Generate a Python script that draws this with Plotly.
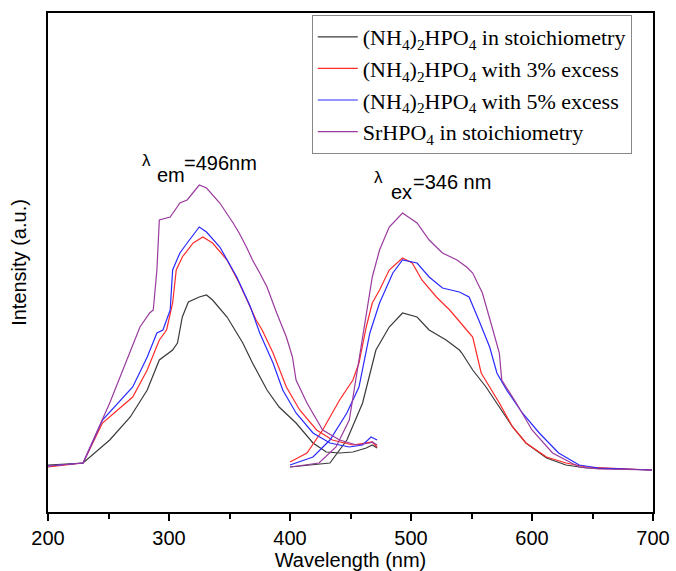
import plotly.graph_objects as go

# ---- Excitation spectra (monitored at 496 nm) ----
ex_black_wl = [200, 229, 251, 268, 282, 292, 303, 307, 311, 316, 325, 331, 336, 348, 358, 361, 369, 375, 381, 391, 405, 419, 430, 441, 452, 463, 468, 472]
ex_black_I = [47, 49, 72, 95, 122, 152, 162, 169, 195, 210, 215, 217, 212, 195, 175, 169, 149, 135, 122, 105, 89, 69, 60, 59, 60, 64, 67, 64]

ex_red_wl = [200, 229, 245, 270, 282, 292, 298, 303, 306, 311, 320, 328, 336, 348, 358, 367, 372, 377, 386, 397, 408, 422, 435, 452, 463, 468, 472]
ex_red_I = [45, 49, 89, 115, 142, 172, 182, 209, 242, 255, 269, 275, 269, 252, 229, 205, 192, 182, 159, 125, 102, 82, 72, 67, 69, 70, 65]

ex_blue_wl = [200, 229, 245, 270, 282, 290, 295, 301, 303, 309, 315, 325, 331, 342, 356, 367, 375, 386, 394, 405, 419, 433, 449, 460, 467, 472]
ex_blue_I = [46, 49, 92, 125, 155, 179, 182, 202, 242, 259, 269, 285, 280, 265, 235, 206, 179, 149, 122, 99, 79, 69, 65, 67, 75, 72]

ex_purple_wl = [200, 229, 251, 265, 276, 284, 287, 290, 292, 301, 309, 315, 325, 331, 342, 353, 358, 364, 369, 375, 381, 389, 397, 402, 405, 414, 427, 441, 455, 466, 468, 472]
ex_purple_I = [46, 49, 109, 152, 185, 199, 202, 242, 292, 295, 309, 312, 327, 324, 309, 289, 279, 265, 252, 239, 225, 199, 175, 155, 132, 109, 82, 72, 67, 69, 70, 67]

# ---- Emission spectra (excited at 346 nm) ----
em_black_wl = [400, 433, 447, 460, 471, 482, 493, 505, 515, 529, 540, 542, 551, 562, 573, 584, 595, 612, 628, 645, 699]
em_black_I = [45, 49, 72, 109, 162, 185, 199, 195, 182, 172, 162, 159, 142, 125, 105, 85, 69, 54, 47, 44, 42]

em_red_wl = [400, 414, 427, 441, 452, 457, 463, 468, 474, 482, 493, 501, 509, 521, 532, 540, 546, 551, 555, 558, 565, 573, 584, 595, 612, 628, 645, 661, 699]
em_red_I = [50, 59, 82, 112, 132, 149, 185, 209, 222, 242, 254, 249, 232, 215, 202, 190, 182, 175, 155, 139, 125, 109, 85, 69, 55, 49, 45, 44, 42]

em_blue_wl = [400, 419, 433, 447, 457, 466, 474, 485, 493, 505, 515, 526, 540, 548, 556, 565, 571, 579, 592, 606, 622, 639, 655, 699]
em_blue_I = [47, 55, 72, 99, 125, 179, 209, 239, 252, 249, 235, 224, 220, 215, 192, 165, 139, 122, 99, 79, 59, 47, 44, 42]

em_purple_wl = [400, 424, 438, 449, 457, 463, 468, 474, 482, 493, 505, 515, 526, 538, 546, 551, 559, 567, 573, 575, 587, 600, 617, 639, 655, 699]
em_purple_I = [45, 49, 65, 92, 152, 195, 235, 262, 285, 299, 289, 272, 259, 252, 245, 239, 219, 185, 159, 132, 109, 82, 59, 45, 43, 42]

series_names = [
    "(NH<sub>4</sub>)<sub>2</sub>HPO<sub>4</sub> in stoichiometry",
    "(NH<sub>4</sub>)<sub>2</sub>HPO<sub>4</sub> with 3% excess",
    "(NH<sub>4</sub>)<sub>2</sub>HPO<sub>4</sub> with 5% excess",
    "SrHPO<sub>4</sub> in stoichiometry",
]
series_colors = ["#3a3a3a", "#ff2a2a", "#2a2aff", "#9a3a9e"]

x_ticks = [200, 300, 400, 500, 600, 700]

SANS = "Liberation Sans, Arial, sans-serif"
SERIF = "Liberation Serif, Times New Roman, serif"

fig = go.Figure()
ex_sets = [(ex_black_wl, ex_black_I), (ex_red_wl, ex_red_I), (ex_blue_wl, ex_blue_I), (ex_purple_wl, ex_purple_I)]
em_sets = [(em_black_wl, em_black_I), (em_red_wl, em_red_I), (em_blue_wl, em_blue_I), (em_purple_wl, em_purple_I)]

for i, (name, color) in enumerate(zip(series_names, series_colors)):
    fig.add_trace(go.Scatter(x=ex_sets[i][0], y=ex_sets[i][1], mode="lines",
                             line=dict(color=color, width=1.2), name=name,
                             legendgroup=str(i), showlegend=True))
    fig.add_trace(go.Scatter(x=em_sets[i][0], y=em_sets[i][1], mode="lines",
                             line=dict(color=color, width=1.2), name=name,
                             legendgroup=str(i), showlegend=False))

# λem=496nm label (lambda, lowered "em", raised "=496nm")
fig.add_annotation(x=281, y=352, xref="x", yref="y", xanchor="center", yanchor="middle",
                   text="λ", showarrow=False, font=dict(family=SANS, size=17, color="black"))
fig.add_annotation(x=288.5, y=337, xref="x", yref="y", xanchor="left", yanchor="middle",
                   text="em", showarrow=False, font=dict(family=SANS, size=20, color="black"))
fig.add_annotation(x=311, y=349, xref="x", yref="y", xanchor="left", yanchor="middle",
                   text="=496nm", showarrow=False, font=dict(family=SANS, size=20, color="black"))

# λex=346 nm label
fig.add_annotation(x=473, y=335, xref="x", yref="y", xanchor="center", yanchor="middle",
                   text="λ", showarrow=False, font=dict(family=SANS, size=17, color="black"))
fig.add_annotation(x=482, y=320, xref="x", yref="y", xanchor="left", yanchor="middle",
                   text="ex", showarrow=False, font=dict(family=SANS, size=20, color="black"))
fig.add_annotation(x=500, y=330, xref="x", yref="y", xanchor="left", yanchor="middle",
                   text="=346 nm", showarrow=False, font=dict(family=SANS, size=20, color="black"))

fig.update_layout(
    width=676, height=571,
    margin=dict(l=48, r=23, t=13, b=59),
    paper_bgcolor="white", plot_bgcolor="white",
    showlegend=True,
    legend=dict(x=0.436, y=0.996, xanchor="left", yanchor="top",
                bgcolor="white", bordercolor="#888888", borderwidth=1,
                font=dict(family=SERIF, size=22, color="black"),
                tracegroupgap=0, itemwidth=40),
    font=dict(family=SANS, color="black"),
)
fig.update_xaxes(range=[200, 700], tickvals=x_ticks, ticks="outside", ticklen=7, tickwidth=1.5,
                 tickcolor="black",
                 minor=dict(ticks="outside", dtick=50, ticklen=5, tickwidth=1.5, tickcolor="black"),
                 showline=True, linewidth=2, linecolor="black", mirror=True,
                 showgrid=False, zeroline=False,
                 tickfont=dict(family=SANS, size=20, color="black"),
                 title=dict(text="Wavelength (nm)", standoff=2,
                            font=dict(family=SANS, size=20, color="black")),
                 automargin=False)
fig.update_yaxes(range=[0, 499], showticklabels=False, ticks="",
                 showline=True, linewidth=2, linecolor="black", mirror=True,
                 showgrid=False, zeroline=False,
                 title=dict(text="Intensity (a.u.)", standoff=14,
                            font=dict(family=SANS, size=20, color="black")),
                 automargin=False)

fig.write_html("out.html", config={"displayModeBar": False},
               post_script="document.body.style.margin='0px';")
